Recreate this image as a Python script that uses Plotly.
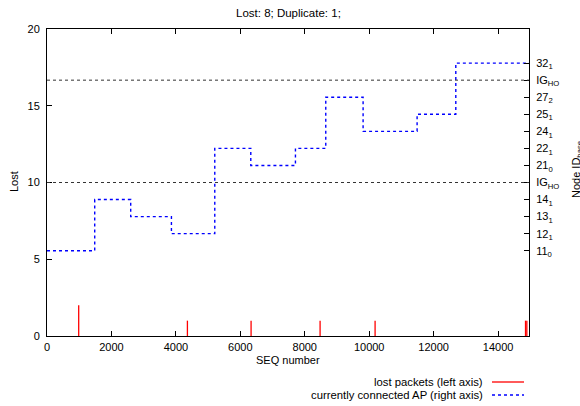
import plotly.graph_objects as go

# ---------------- data ----------------
title_text = "Lost: 8; Duplicate: 1;"

# lost packets (left axis): sequence number and count
lost_seq = [984, 4358, 6334, 8476, 10183, 14852, 14893]
lost_count = [2, 1, 1, 1, 1, 1, 1]

# right-axis tick labels (bottom to top)
node_labels = ["11<sub>0</sub>", "12<sub>1</sub>", "13<sub>1</sub>", "14<sub>1</sub>",
               "IG<sub>HO</sub>", "21<sub>0</sub>", "22<sub>1</sub>", "24<sub>1</sub>",
               "25<sub>1</sub>", "27<sub>2</sub>", "IG<sub>HO</sub>", "32<sub>1</sub>"]

# currently connected AP: seq number at which each AP starts, and the AP label
ap_seq_start = [0, 1481, 2598, 3862, 5207, 6325, 7711, 8652, 9811, 11487, 12688]
ap_node = ["11<sub>0</sub>", "14<sub>1</sub>", "13<sub>1</sub>", "12<sub>1</sub>",
           "22<sub>1</sub>", "21<sub>0</sub>", "22<sub>1</sub>", "27<sub>2</sub>",
           "24<sub>1</sub>", "25<sub>1</sub>", "32<sub>1</sub>"]
seq_end = 14960

x_ticks = [0, 2000, 4000, 6000, 8000, 10000, 12000, 14000]
y_ticks = [0, 5, 10, 15, 20]

# ---------------- build ----------------
FONT = "Liberation Sans, Arial, Helvetica, sans-serif"
W, H = 580, 406
ML, MR, MT, MB = 47, 51, 29, 70
PW, PH = W - ML - MR, H - MT - MB


def px_x(px):
    return (px - ML) / PW


def px_y(py):
    return (H - MB - py) / PH


fig = go.Figure()

# impulses for lost packets
ix, iy = [], []
for s, c in zip(lost_seq, lost_count):
    ix += [s, s, None]
    iy += [0, c, None]
fig.add_trace(go.Scatter(x=ix, y=iy, mode="lines", line=dict(color="#ff0000", width=1.3),
                         showlegend=False, hoverinfo="skip"))

# step line for AP (right axis)
node_index = {lab: i for i, lab in enumerate(node_labels)}
sx = ap_seq_start + [seq_end]
sy = [node_index[n] for n in ap_node] + [node_index[ap_node[-1]]]
fig.add_trace(go.Scatter(x=sx, y=sy, mode="lines", yaxis="y2",
                         line=dict(color="#0000ff", width=1.4, dash="dot", shape="hv"),
                         showlegend=False, hoverinfo="skip"))

# IG_HO reference lines
shapes = []
for i, lab in enumerate(node_labels):
    if lab.startswith("IG"):
        shapes.append(dict(type="line", xref="paper", x0=0, x1=1, yref="y2", y0=i, y1=i,
                           line=dict(color="#333333", width=1, dash="dot")))

# legend samples
shapes.append(dict(type="line", xref="paper", yref="paper",
                   x0=px_x(492), x1=px_x(524), y0=px_y(382), y1=px_y(382),
                   line=dict(color="#ff0000", width=1.3)))
shapes.append(dict(type="line", xref="paper", yref="paper",
                   x0=px_x(492), x1=px_x(524), y0=px_y(395), y1=px_y(395),
                   line=dict(color="#0000ff", width=1.4, dash="dot")))

annotations = [
    dict(text=title_text, xref="paper", yref="paper", x=0.5, y=px_y(13),
         xanchor="center", yanchor="middle", showarrow=False, font=dict(size=11.5)),
    dict(text="Lost", xref="paper", yref="paper", x=px_x(14), y=px_y(182), textangle=-90,
         xanchor="center", yanchor="middle", showarrow=False, font=dict(size=11)),
    dict(text="SEQ number", xref="paper", yref="paper", x=0.5, y=px_y(360),
         xanchor="center", yanchor="middle", showarrow=False, font=dict(size=11)),
    dict(text="Node ID<sub>base</sub>", xref="paper", yref="paper", x=px_x(577), y=px_y(170),
         textangle=-90, xanchor="center", yanchor="middle", showarrow=False, font=dict(size=11)),
    dict(text="lost packets (left axis)", xref="paper", yref="paper", x=px_x(485), y=px_y(382),
         xanchor="right", yanchor="middle", showarrow=False, font=dict(size=11.3)),
    dict(text="currently connected AP (right axis)", xref="paper", yref="paper", x=px_x(485),
         y=px_y(395), xanchor="right", yanchor="middle", showarrow=False, font=dict(size=11.3)),
]

axis_common = dict(showgrid=False, zeroline=False, showline=True, linecolor="black", linewidth=1,
                   ticks="inside", ticklen=5, tickcolor="black", tickfont=dict(size=11, color="black"))

fig.update_layout(
    width=W, height=H, margin=dict(l=ML, r=MR, t=MT, b=MB, autoexpand=False),
    paper_bgcolor="white", plot_bgcolor="white",
    font=dict(family=FONT, color="black", size=11),
    showlegend=False,
    xaxis=dict(range=[0, seq_end], tickvals=x_ticks, ticktext=[str(v) for v in x_ticks],
               mirror="ticks", ticklabelstandoff=1, **axis_common),
    yaxis=dict(range=[0, 20], tickvals=y_ticks, ticktext=[str(v) for v in y_ticks],
               ticklabelstandoff=4, **axis_common),
    yaxis2=dict(overlaying="y", side="right", range=[-5, 13], tickvals=list(range(len(node_labels))),
                ticktext=node_labels, ticklabelstandoff=4, **axis_common),
    shapes=shapes, annotations=annotations,
)

fig.write_html("out.html", config={"displayModeBar": False},
               post_script="document.body.style.margin='0';document.body.style.overflow='hidden';")
